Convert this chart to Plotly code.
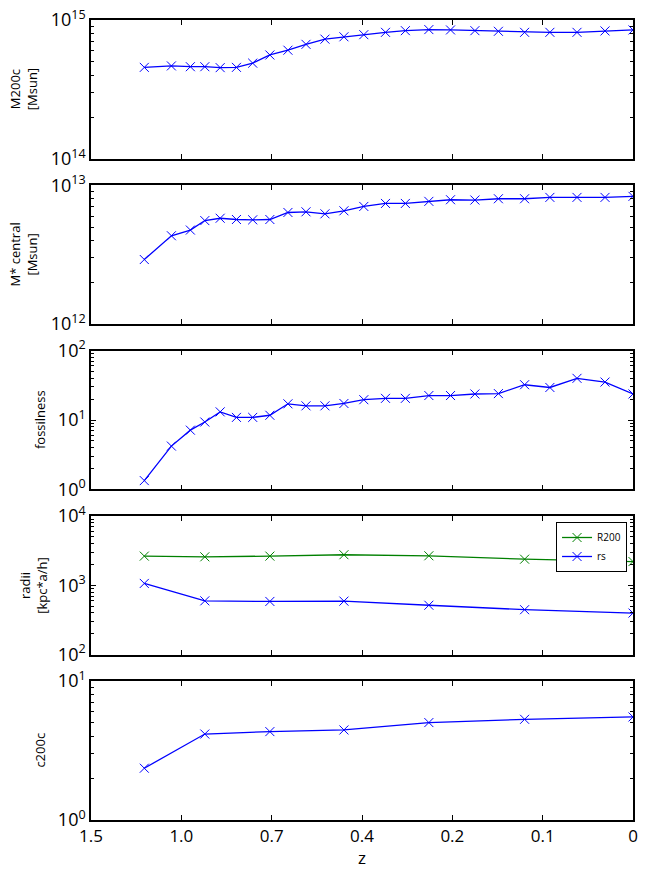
import plotly.graph_objects as go
from plotly.subplots import make_subplots

# scale factor of each snapshot (x axis is linear in a, labelled with z)
a_fine = [0.459, 0.489, 0.510, 0.526, 0.543, 0.561, 0.579, 0.598, 0.618, 0.638,
          0.659, 0.680, 0.702, 0.726, 0.748, 0.774, 0.798, 0.825, 0.851, 0.880,
          0.908, 0.938, 0.969, 1.0]
a_coarse = [0.459, 0.526, 0.598, 0.680, 0.774, 0.880, 1.0]

m200c = [4.56e14, 4.67e14, 4.61e14, 4.61e14, 4.54e14, 4.56e14, 4.89e14, 5.60e14,
         6.06e14, 6.68e14, 7.28e14, 7.57e14, 7.84e14, 8.15e14, 8.38e14, 8.53e14,
         8.48e14, 8.38e14, 8.29e14, 8.15e14, 8.15e14, 8.15e14, 8.34e14, 8.48e14]
mstar_central = [2.92e12, 4.33e12, 4.76e12, 5.57e12, 5.79e12, 5.67e12, 5.64e12, 5.67e12,
                 6.37e12, 6.44e12, 6.23e12, 6.55e12, 7.04e12, 7.40e12, 7.40e12, 7.66e12,
                 7.87e12, 7.83e12, 8.00e12, 8.00e12, 8.18e12, 8.18e12, 8.18e12, 8.32e12]
fossilness = [1.34, 4.21, 7.14, 9.35, 13.1, 10.9, 10.9, 11.7, 17.1, 16.0, 16.0, 17.3,
              19.6, 20.5, 20.5, 22.5, 22.5, 23.7, 24.0, 32.2, 29.4, 39.8, 35.2, 23.7]
r200 = [2630, 2570, 2630, 2754, 2660, 2376, 2196]
rs = [1064, 597, 585, 591, 516, 445, 398]
c200c = [2.36, 4.16, 4.33, 4.45, 5.03, 5.31, 5.52]

x_ticks = [0.4, 0.5, 0.6, 0.7, 0.8, 0.9, 1.0]
x_ticklabels = ["1.5", "1.0", "0.7", "0.4", "0.2", "0.1", "0"]

# (y label, lowest decade, highest decade, label x position in paper units)
panels = [
    ("M200c<br>[Msun]", 14, 15, -0.124),
    ("M* central<br>[Msun]", 12, 13, -0.124),
    ("fossilness", 0, 2, -0.094),
    ("radii<br>[kpc*a/h]", 2, 4, -0.106),
    ("c200c", 0, 1, -0.094),
]

FONT = "Open Sans"
BLUE = "#0000ff"
GREEN = "#008000"

fig = make_subplots(rows=5, cols=1, shared_xaxes=True, vertical_spacing=0.033)


def add_line(x, y, row, color, name, show):
    fig.add_trace(go.Scatter(
        x=x, y=y, mode="lines+markers", name=name, showlegend=show,
        line=dict(color=color, width=1.3),
        marker=dict(symbol="x-thin", size=9, line=dict(color=color, width=1)),
    ), row=row, col=1)


add_line(a_fine, m200c, 1, BLUE, "M200c", False)
add_line(a_fine, mstar_central, 2, BLUE, "M*", False)
add_line(a_fine, fossilness, 3, BLUE, "fossilness", False)
add_line(a_coarse, r200, 4, GREEN, "R200", True)
add_line(a_coarse, rs, 4, BLUE, "rs", True)
add_line(a_coarse, c200c, 5, BLUE, "c200c", False)

for i, (title, lo, hi, tx) in enumerate(panels, start=1):
    decades = list(range(lo, hi + 1))
    minors = [m * 10 ** d for d in range(lo, hi) for m in range(2, 10)]
    fig.update_yaxes(
        type="log", range=[lo, hi], automargin=False,
        tickmode="array", tickvals=[10 ** d for d in decades],
        ticktext=["10<sup>%d</sup>" % d for d in decades],
        ticks="inside", ticklen=5, tickcolor="black",
        minor=dict(tickmode="array", tickvals=minors, ticks="inside",
                   ticklen=3, tickcolor="black"),
        showline=True, linecolor="black", linewidth=1.5, mirror="ticks",
        showgrid=False, zeroline=False,
        tickfont=dict(family=FONT, size=18, color="black"),
        row=i, col=1)
    fig.update_xaxes(
        range=[0.4, 1.0], automargin=False,
        tickmode="array", tickvals=x_ticks,
        ticktext=x_ticklabels if i == 5 else [""] * len(x_ticks),
        showticklabels=(i == 5),
        ticks="inside", ticklen=5, tickcolor="black",
        showline=True, linecolor="black", linewidth=1.5, mirror="ticks",
        showgrid=False, zeroline=False,
        tickfont=dict(family=FONT, size=17, color="black"),
        row=i, col=1)
    yref = "y domain" if i == 1 else "y%d domain" % i
    fig.add_annotation(text=title, textangle=-90, showarrow=False,
                       xref="paper", x=tx, xanchor="center",
                       yref=yref, y=0.5, yanchor="middle",
                       font=dict(family=FONT, size=13, color="black"))

fig.add_annotation(text="z", showarrow=False, xref="paper", x=0.5, xanchor="center",
                   yref="paper", y=-0.047, yanchor="middle",
                   font=dict(family=FONT, size=17, color="black"))

fig.update_layout(
    width=656, height=878,
    margin=dict(l=91, r=23, t=20, b=58),
    plot_bgcolor="white", paper_bgcolor="white",
    font=dict(family=FONT, color="black"),
    legend=dict(x=0.858, y=0.3725, xanchor="left", yanchor="top",
                bordercolor="black", borderwidth=1, bgcolor="white",
                font=dict(family=FONT, size=10, color="black"),
                tracegroupgap=0, itemwidth=30),
)

# the page body has a default 8px margin; drop it so the figure sits at 0,0
fig.write_html("out.html", config={"displayModeBar": False},
               post_script="document.body.style.margin='0px';")
